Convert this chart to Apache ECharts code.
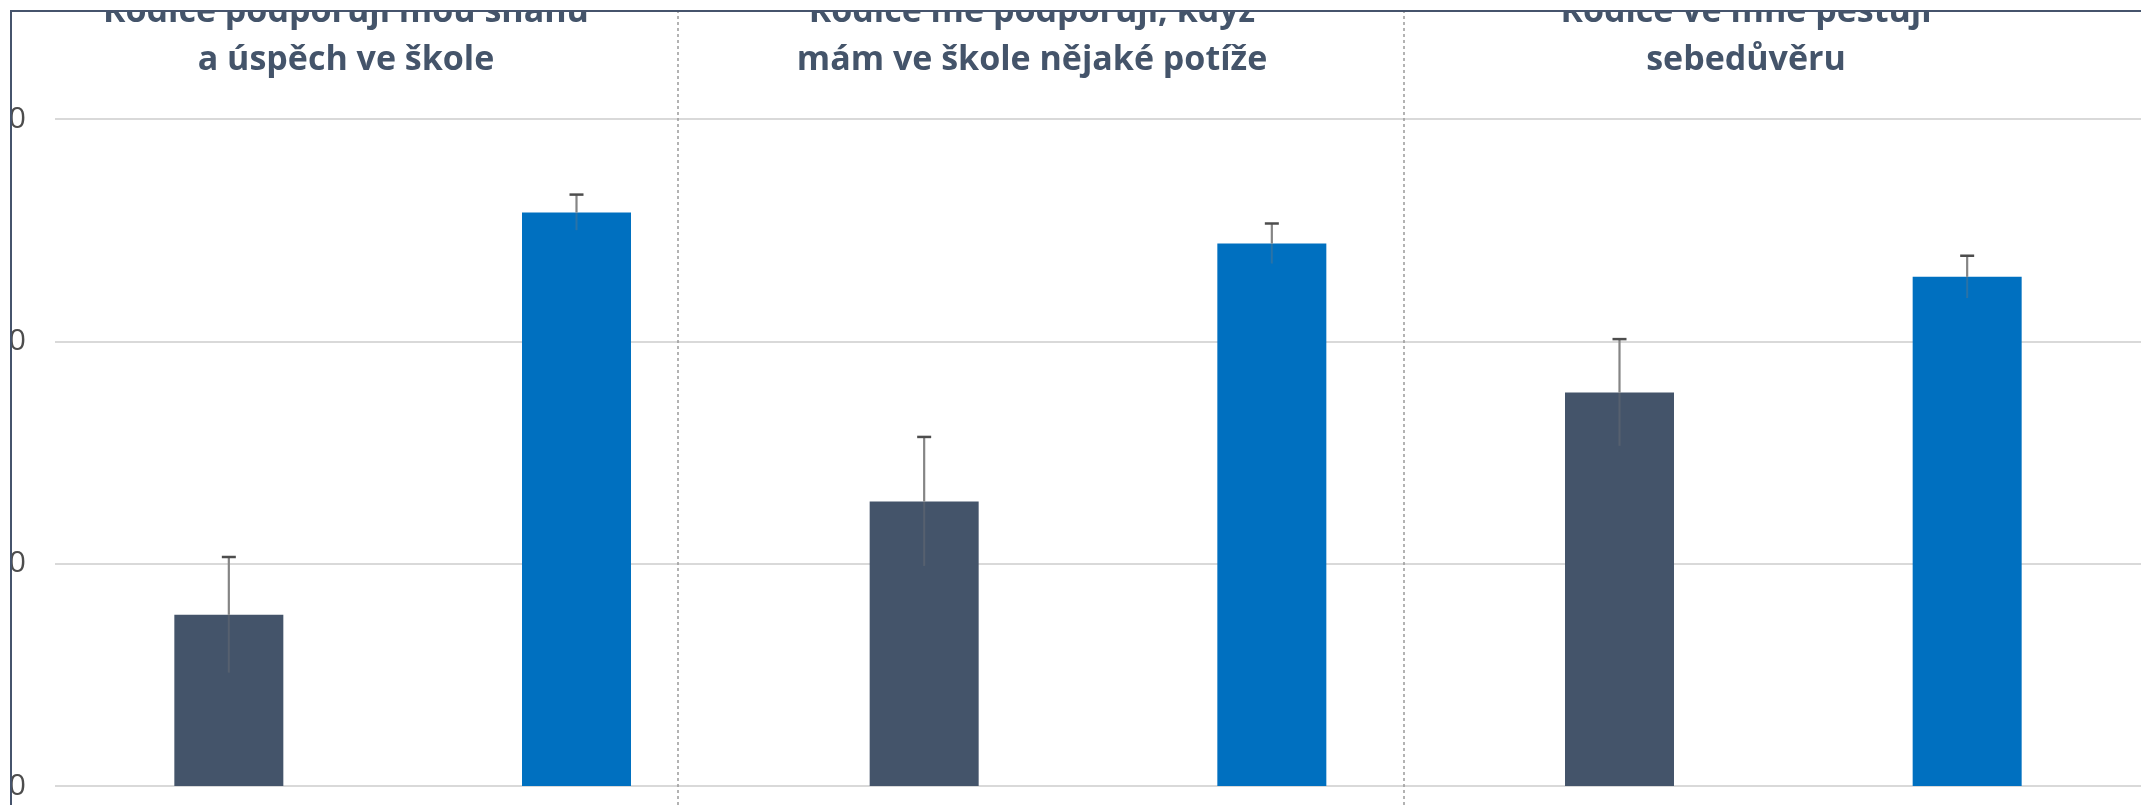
<!DOCTYPE html>
<html>
<head>
<meta charset="utf-8">
<title>Rodiče</title>
<script src="https://cdn.jsdelivr.net/npm/echarts@6/dist/echarts.min.js"></script>
<style>
  html, body { margin: 0; padding: 0; background: #fff; }
  #frame {
    position: absolute; left: 10px; top: 10px; width: 2131px; height: 795px;
    box-sizing: border-box; overflow: hidden;
    border-left: 2px solid #46546c; border-top: 2px solid #46546c;
  }
  #chart { position: absolute; left: -12px; top: -12px; width: 2141px; height: 805px; }
</style>
</head>
<body>
<div id="frame"><div id="chart"></div></div>
<script>
// panel titles (first line is cut off by the frame in the source)
var panelTitles = [
  "Rodiče podporují mou snahu\na úspěch ve škole",
  "Rodiče mě podporují, když\nmám ve škole nějaké potíže",
  "Rodiče ve mně pěstují\nsebedůvěru"
];
var groupNames = ["Skupina A", "Skupina B"];

// values
var darkValues = [7.7, 12.8, 17.7];
var darkErrors = [2.6, 2.9, 2.4];
var blueValues = [25.8, 24.4, 22.9];
var blueErrors = [0.8, 0.9, 0.95];

// y axis ticks
var yTicks = [0, 10, 20, 30];

// dashed panel dividers, in category units
var dividerPos = [1.795, 3.88];

// build categories: two bars per panel
var categories = [];
var darkData = [], blueData = [], errData = [];
panelTitles.forEach(function (t, i) {
  categories.push(t.replace("\n", " ") + " – " + groupNames[0]);
  categories.push(t.replace("\n", " ") + " – " + groupNames[1]);
  darkData.push(darkValues[i], "-");
  blueData.push("-", blueValues[i]);
  errData.push([2 * i, darkValues[i], darkErrors[i]]);
  errData.push([2 * i + 1, blueValues[i], blueErrors[i]]);
});

var titleCenters = [341, 1027, 1741];
var titles = panelTitles.map(function (t, i) {
  return {
    text: t,
    left: titleCenters[i],
    top: -17,
    textAlign: "center",
    textStyle: {
      fontFamily: "Open Sans",
      fontSize: 34,
      fontWeight: "bold",
      color: "#44546a",
      lineHeight: 48
    }
  };
});

var chart = echarts.init(document.getElementById("chart"));
chart.setOption({
  backgroundColor: "#fff",
  animation: false,
  title: titles,
  grid: [
    { left: 55, right: 0, top: 119, bottom: 19, outerBoundsMode: "none", containLabel: false },
    { left: 55, right: 0, top: 0, bottom: 0, outerBoundsMode: "none", containLabel: false }
  ],
  xAxis: [
    {
      type: "category",
      data: categories,
      gridIndex: 0,
      axisLine: { show: false },
      axisTick: { show: false },
      axisLabel: { show: false }
    },
    { type: "value", gridIndex: 1, min: 0, max: 6, show: false }
  ],
  yAxis: [
    {
      type: "value",
      gridIndex: 0,
      min: yTicks[0],
      max: yTicks[yTicks.length - 1],
      interval: yTicks[1] - yTicks[0],
      axisLine: { show: false },
      axisTick: { show: false },
      axisLabel: {
        fontFamily: "Open Sans",
        fontSize: 30,
        color: "#4d4d4d",
        margin: 29
      },
      splitLine: { lineStyle: { color: "#d9d9d9", width: 2 } }
    },
    { type: "value", gridIndex: 1, min: 0, max: 1, show: false }
  ],
  series: [
    {
      name: groupNames[0],
      type: "bar",
      data: darkData,
      barWidth: 109,
      barGap: "-100%",
      itemStyle: { color: "#44546a" }
    },
    {
      name: groupNames[1],
      type: "bar",
      data: blueData,
      barWidth: 109,
      barGap: "-100%",
      itemStyle: { color: "#0070c0" }
    },
    {
      type: "custom",
      name: "chyba",
      data: errData,
      z: 10,
      renderItem: function (params, api) {
        var idx = api.value(0);
        var v = api.value(1);
        var e = api.value(2);
        var x = api.coord([idx, v])[0];
        var yMid = api.coord([idx, v])[1];
        var yHi = api.coord([idx, v + e])[1];
        var yLo = api.coord([idx, v - e])[1];
        return {
          type: "group",
          children: [
            { type: "line", shape: { x1: x, y1: yMid, x2: x, y2: yLo },
              style: { stroke: "rgba(120,120,120,0.35)", lineWidth: 2 } },
            { type: "line", shape: { x1: x, y1: yHi, x2: x, y2: yMid },
              style: { stroke: "#858585", lineWidth: 2.2 } },
            { type: "line", shape: { x1: x - 7, y1: yHi, x2: x + 7, y2: yHi },
              style: { stroke: "#4d4d4d", lineWidth: 2.5 } }
          ]
        };
      }
    },
    {
      // dashed dividers between the panels, full height
      type: "line",
      xAxisIndex: 1,
      yAxisIndex: 1,
      data: [],
      silent: true,
      markLine: {
        silent: true,
        symbol: "none",
        label: { show: false },
        lineStyle: { type: [3, 3], color: "#9a9a9a", width: 1.5 },
        data: dividerPos.map(function (p) { return { xAxis: p }; })
      }
    }
  ]
});
</script>
</body>
</html>
